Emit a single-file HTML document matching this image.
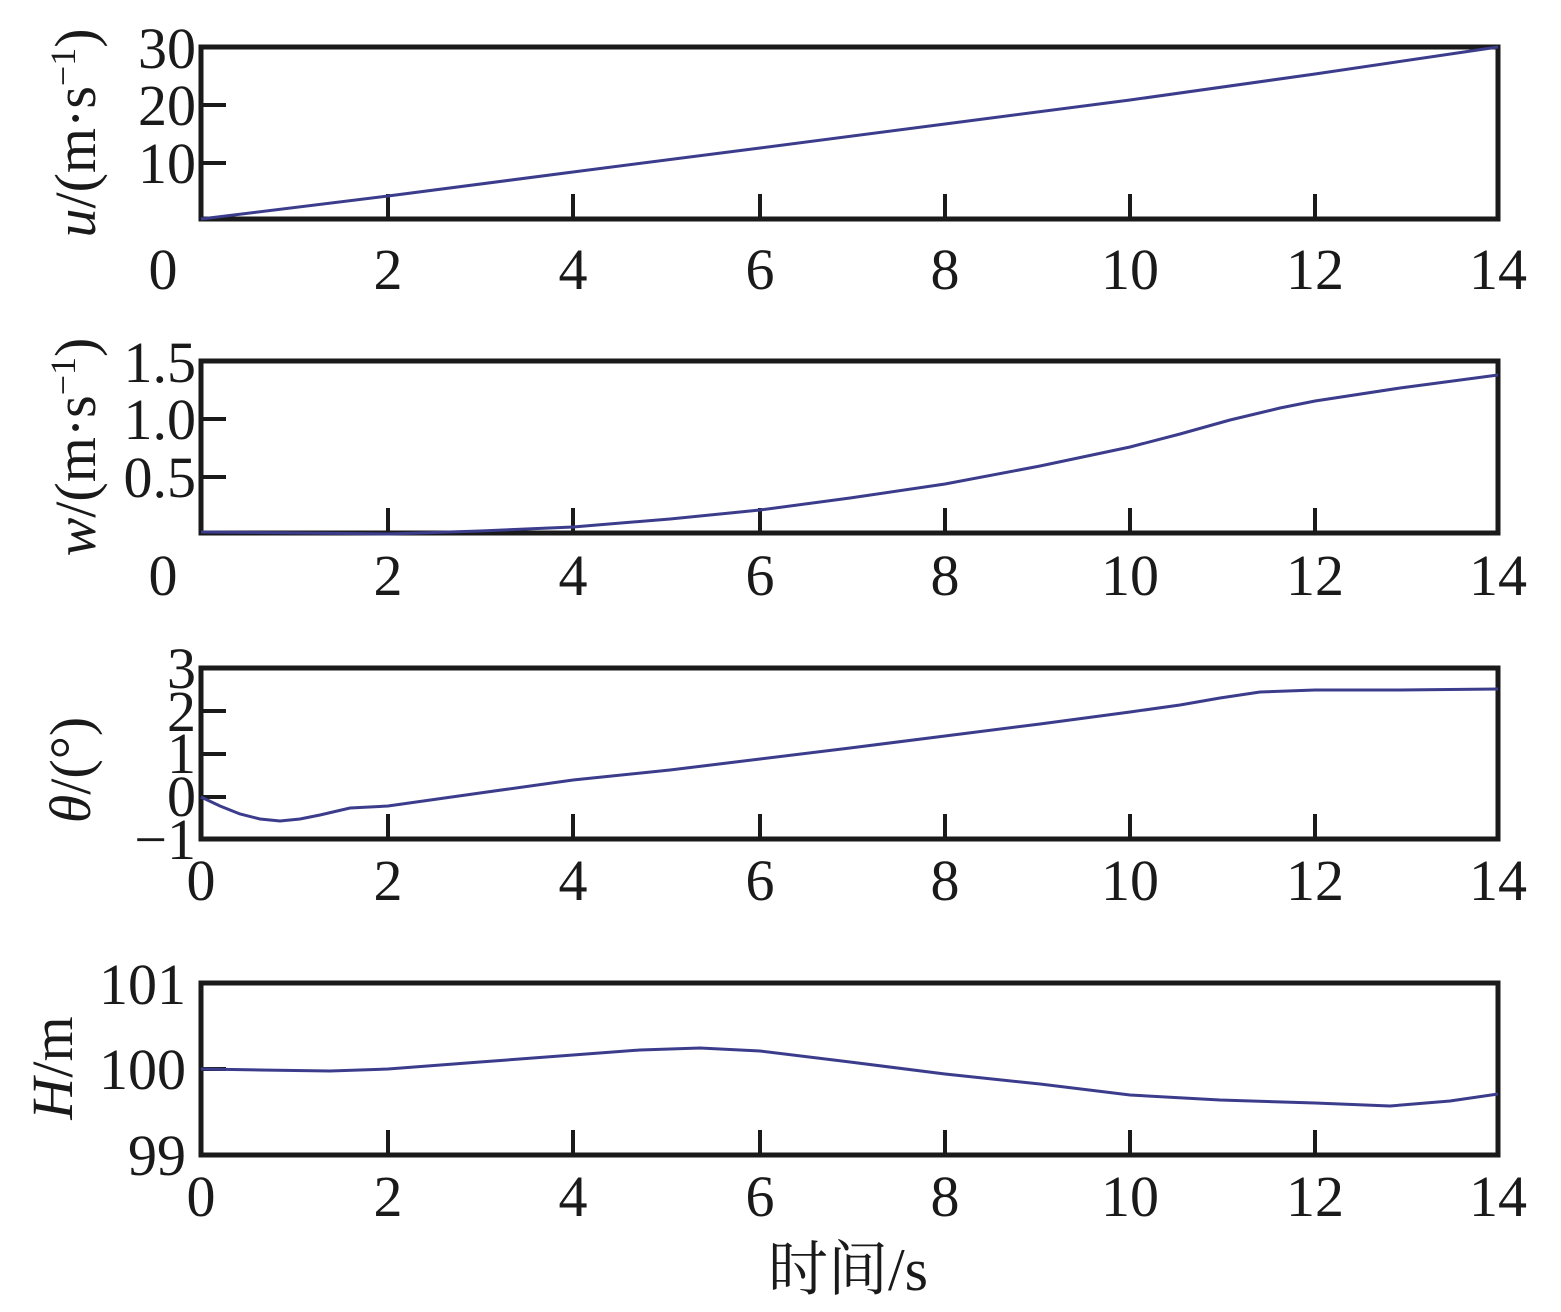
<!DOCTYPE html>
<html><head><meta charset="utf-8"><style>
html,body{margin:0;padding:0;background:#fff;}
svg{display:block;font-family:"Liberation Serif","Times New Roman","Noto Serif CJK SC",serif;}
text{font-family:"Liberation Serif","Times New Roman","Noto Serif CJK SC",serif;fill:#1a1a1a;}
</style></head><body>
<svg width="1561" height="1312" viewBox="0 0 1561 1312" xmlns="http://www.w3.org/2000/svg" font-family="Liberation Serif, serif">
<defs>
<g id="xt" stroke="#1a1a1a" stroke-width="4">
<line x1="388" y1="0" x2="388" y2="-25"/><line x1="573" y1="0" x2="573" y2="-25"/>
<line x1="760" y1="0" x2="760" y2="-25"/><line x1="945" y1="0" x2="945" y2="-25"/>
<line x1="1130" y1="0" x2="1130" y2="-25"/><line x1="1315" y1="0" x2="1315" y2="-25"/>
</g>
</defs>
<g font-size="58" text-anchor="middle">
<!-- Panel 1 -->
<rect x="201" y="47" width="1297" height="172" fill="none" stroke="#1a1a1a" stroke-width="5"/>
<use href="#xt" y="219"/>
<g stroke="#1a1a1a" stroke-width="4"><line x1="201" y1="163" x2="226" y2="163"/><line x1="201" y1="105" x2="226" y2="105"/></g>
<g text-anchor="end"><text x="196" y="183">10</text><text x="196" y="125">20</text><text x="196" y="68">30</text></g>
<g><text x="163" y="289">0</text><text x="388" y="289">2</text><text x="573" y="289">4</text><text x="760" y="289">6</text><text x="945" y="289">8</text><text x="1130" y="289">10</text><text x="1315" y="289">12</text><text x="1498" y="289">14</text></g>
<polyline fill="none" stroke="#3c3c8c" stroke-width="3" points="201,219 388,196 573,172 760,148 945,124 1130,100 1315,74 1498,47"/>
<text transform="translate(95,133) rotate(-90)"><tspan font-style="italic">u</tspan>/(m·s<tspan dy="-20" font-size="36">−1</tspan><tspan dy="20">)</tspan></text>

<!-- Panel 2 -->
<rect x="201" y="361" width="1297" height="172" fill="none" stroke="#1a1a1a" stroke-width="5"/>
<use href="#xt" y="533"/>
<g stroke="#1a1a1a" stroke-width="4"><line x1="201" y1="477" x2="226" y2="477"/><line x1="201" y1="419" x2="226" y2="419"/></g>
<g text-anchor="end"><text x="196" y="497">0.5</text><text x="196" y="439">1.0</text><text x="196" y="382">1.5</text></g>
<g><text x="163" y="595">0</text><text x="388" y="595">2</text><text x="573" y="595">4</text><text x="760" y="595">6</text><text x="945" y="595">8</text><text x="1130" y="595">10</text><text x="1315" y="595">12</text><text x="1498" y="595">14</text></g>
<polyline fill="none" stroke="#3c3c8c" stroke-width="3" points="201,532 300,533 388,534 480,531 573,527 670,519 760,510 850,498 945,484 1040,466 1130,447 1180,434 1230,420 1280,408 1315,401 1400,388 1498,375"/>
<text transform="translate(95,447) rotate(-90)"><tspan font-style="italic">w</tspan>/(m·s<tspan dy="-20" font-size="36">−1</tspan><tspan dy="20">)</tspan></text>

<!-- Panel 3 -->
<rect x="201" y="668" width="1297" height="171" fill="none" stroke="#1a1a1a" stroke-width="5"/>
<use href="#xt" y="839"/>
<g stroke="#1a1a1a" stroke-width="4"><line x1="201" y1="797" x2="226" y2="797"/><line x1="201" y1="754" x2="226" y2="754"/><line x1="201" y1="711" x2="226" y2="711"/></g>
<g text-anchor="end"><text x="196" y="859">−1</text><text x="196" y="816">0</text><text x="196" y="773">1</text><text x="196" y="731">2</text><text x="196" y="688">3</text></g>
<g><text x="201" y="900">0</text><text x="388" y="900">2</text><text x="573" y="900">4</text><text x="760" y="900">6</text><text x="945" y="900">8</text><text x="1130" y="900">10</text><text x="1315" y="900">12</text><text x="1498" y="900">14</text></g>
<polyline fill="none" stroke="#3c3c8c" stroke-width="3" points="201,797 220,806 240,814 260,819 280,821 300,819 320,815 350,808 388,806 480,793 573,780 670,770 760,759 850,748 945,736 1040,724 1130,712 1180,705 1220,698 1260,692 1315,690 1400,690 1498,689"/>
<text transform="translate(90,770) rotate(-90)"><tspan font-style="italic">θ</tspan>/(°)</text>

<!-- Panel 4 -->
<rect x="201" y="983" width="1297" height="172" fill="none" stroke="#1a1a1a" stroke-width="5"/>
<use href="#xt" y="1155"/>
<g stroke="#1a1a1a" stroke-width="4"><line x1="201" y1="1069" x2="226" y2="1069"/></g>
<g text-anchor="end"><text x="186" y="1175">99</text><text x="186" y="1089">100</text><text x="186" y="1004">101</text></g>
<g><text x="201" y="1216">0</text><text x="388" y="1216">2</text><text x="573" y="1216">4</text><text x="760" y="1216">6</text><text x="945" y="1216">8</text><text x="1130" y="1216">10</text><text x="1315" y="1216">12</text><text x="1498" y="1216">14</text></g>
<polyline fill="none" stroke="#3c3c8c" stroke-width="3" points="201,1069 260,1070 330,1071 388,1069 480,1062 573,1055 640,1050 700,1048 760,1051 850,1062 945,1074 1040,1084 1130,1095 1220,1100 1315,1103 1390,1106 1450,1101 1498,1094"/>
<text transform="translate(72,1068) rotate(-90)"><tspan font-style="italic">H</tspan>/m</text>

<text x="848" y="1290" font-size="60">时间/s</text>
</g>
</svg>
</body></html>
